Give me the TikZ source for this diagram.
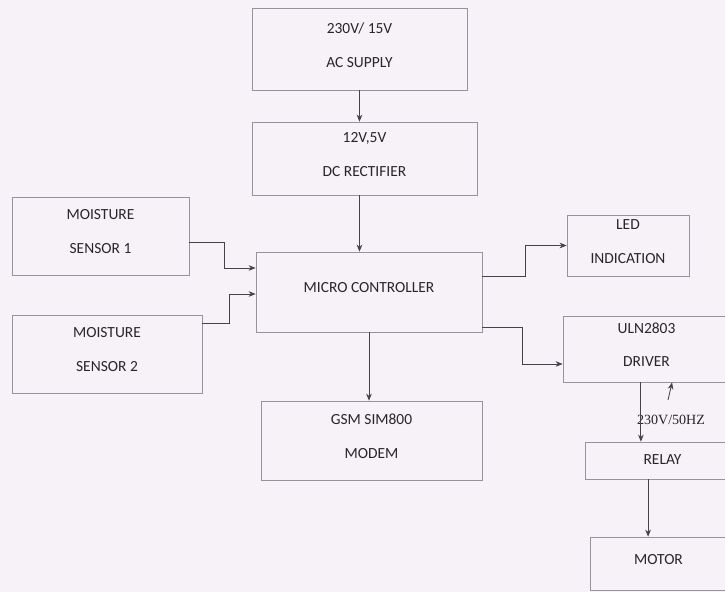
\documentclass[tikz,border=0pt]{standalone}
\usepackage{fontspec}
\setmainfont{Carlito}
\newfontfamily\serifsmall{Liberation Serif}
\usetikzlibrary{arrows.meta, positioning}
\definecolor{paper}{RGB}{247,242,247}
\definecolor{boxline}{RGB}{150,146,160}
\definecolor{wire}{RGB}{70,66,76}
\definecolor{ink}{RGB}{40,38,44}
\tikzset{
  >={Stealth[length=5pt,width=4pt]}, % small filled arrow heads
  block/.style={draw=boxline, line width=0.5pt, text=ink, align=center,
    font=\fontsize{11}{24}\selectfont, inner sep=2pt, text depth=6pt}, % every box of the diagram
  wire/.style={draw=wire, line width=0.6pt, ->}, % connectors between the boxes
}

\begin{document}
\begin{tikzpicture}[x=0.025cm, y=-0.025cm]
      \fill[paper] (0,0) rectangle (725,592);
      \clip (0,0) rectangle (725,592);
      \useasboundingbox (0,0) rectangle (725,592);

      % power chain
      \node[block, minimum width=5.375cm, minimum height=2.05cm] (ac) at (359.5,49) {230V/ 15V\\AC SUPPLY};
      \node[block, minimum width=5.625cm, minimum height=1.825cm] (dc) at (364.5,158.5) {12V,5V\\DC RECTIFIER};

      % inputs and controller
      \node[block, minimum width=4.425cm, minimum height=1.95cm] (ms1) at (100.5,236) {MOISTURE\\SENSOR 1};
      \node[block, minimum width=4.75cm, minimum height=1.95cm] (ms2) at (107,354) {MOISTURE\\SENSOR 2};
      \node[block, minimum width=5.65cm, minimum height=2cm] (mc) at (369,292) {MICRO CONTROLLER};
      \node[block, minimum width=5.525cm, minimum height=1.975cm] (gsm) at (371.5,440.5) {GSM SIM800\\MODEM};

      % outputs
      \node[block, minimum width=3.05cm, minimum height=1.525cm] (led) at (628,245.5) {LED\\INDICATION};
      \node[block, minimum width=4.175cm, minimum height=1.65cm] (drv) at (646.5,349) {ULN2803\\DRIVER};
      \node[block, minimum width=3.875cm, minimum height=0.925cm, text depth=2pt] (relay) at (662.5,460.5) {RELAY};
      \node[block, minimum width=3.425cm, minimum height=1.325cm] (motor) at (658.5,563.5) {MOTOR};
      \node[text=ink, font=\serifsmall\fontsize{10}{10}\selectfont] (mains) at (671,420) {230V/50HZ};

      \coordinate (d1) at ([xshift=-0.14cm]drv.south);
      \coordinate (r1) at ([xshift=-0.36cm]relay.south);
      \coordinate (v1) at (668,400);

      \draw[wire] (ac.south) -- (ac.south |- dc.north);
      \draw[wire] (ac.south |- dc.south) -- (ac.south |- mc.north);
      \draw[wire] ([yshift=-0.15cm]ms1.east) -- ++(35,0) |- ([yshift=0.6cm]mc.west);
      \draw[wire] ([yshift=0.775cm]ms2.east) -- ++(27,0) |- ([yshift=-0.05cm]mc.west);
      \draw[wire] ([yshift=0.4cm]mc.east) -- ++(43,0) |- (led.west);
      \draw[wire] ([yshift=-0.875cm]mc.east) -- ++(40,0) |- ([yshift=-0.375cm]drv.west);
      \draw[wire] (mc.south) -- (mc.south |- gsm.north);
      \draw[wire] (d1) -- (d1 |- relay.north);
      \draw[wire] (r1) -- (r1 |- motor.north);
      \draw[wire] (v1) -- ([xshift=0.64cm]drv.south);
\end{tikzpicture}
\end{document}
